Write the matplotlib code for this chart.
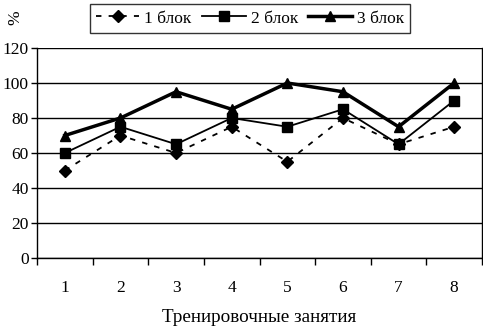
import matplotlib
matplotlib.use("Agg")
import matplotlib.pyplot as plt

sessions = ["1", "2", "3", "4", "5", "6", "7", "8"]
block1 = [50, 70, 60, 75, 55, 80, 65, 75]
block2 = [60, 75, 65, 80, 75, 85, 65, 90]
block3 = [70, 80, 95, 85, 100, 95, 75, 100]
labels = ["1 блок", "2 блок", "3 блок"]
yticks = [0, 20, 40, 60, 80, 100, 120]

plt.rcParams['font.family'] = ['Liberation Serif', 'DejaVu Serif']
FS = 12.5

fig = plt.figure(figsize=(4.83, 3.28), dpi=100)
ax = fig.add_axes([37/483, 1-258/328, (482-37)/483, (258-48)/328])

x = list(range(1, len(sessions)+1))
l1, = ax.plot(x, block1, color='black', lw=1.3, ls=(0, (3, 4)), marker='D', ms=6.5, label=labels[0])
l2, = ax.plot(x, block2, color='black', lw=1.3, ls='-', marker='s', ms=7, label=labels[1])
l3, = ax.plot(x, block3, color='black', lw=2.5, ls='-', marker='^', ms=7.5, label=labels[2])

ax.set_xlim(0.5, 8.5)
ax.set_ylim(0, 120)
ax.set_yticks(yticks)
ax.set_yticklabels([str(v) for v in yticks], fontsize=FS)
ax.set_xticks(x)
ax.set_xticklabels(sessions, fontsize=FS)
ax.tick_params(axis='x', which='major', length=0, pad=16)
ax.set_xticks([i + 0.5 for i in range(0, 9)], minor=True)
ax.tick_params(axis='x', which='minor', length=5, direction='out', width=1)
ax.tick_params(axis='y', length=4, direction='out', width=1, pad=2)
ax.yaxis.grid(True, color='black', lw=1)
ax.set_axisbelow(True)
for s in ['left', 'bottom', 'right']:
    ax.spines[s].set_linewidth(1)
ax.spines['top'].set_visible(False)

ax.set_xlabel("Тренировочные занятия", fontsize=13.8, labelpad=9)
fig.text(15/483, 1-18/328, "%", rotation=90, ha='center', va='center', fontsize=FS)

leg = fig.legend(handles=[l1, l2, l3], loc='center', bbox_to_anchor=(250/483, 1-18.5/328),
                 ncol=3, frameon=True, fancybox=False, edgecolor='black', fontsize=FS,
                 handlelength=2.5, columnspacing=0.6, handletextpad=0.3, borderpad=0.35)
leg.get_frame().set_linewidth(1)

fig.savefig("out.png", dpi=100)
